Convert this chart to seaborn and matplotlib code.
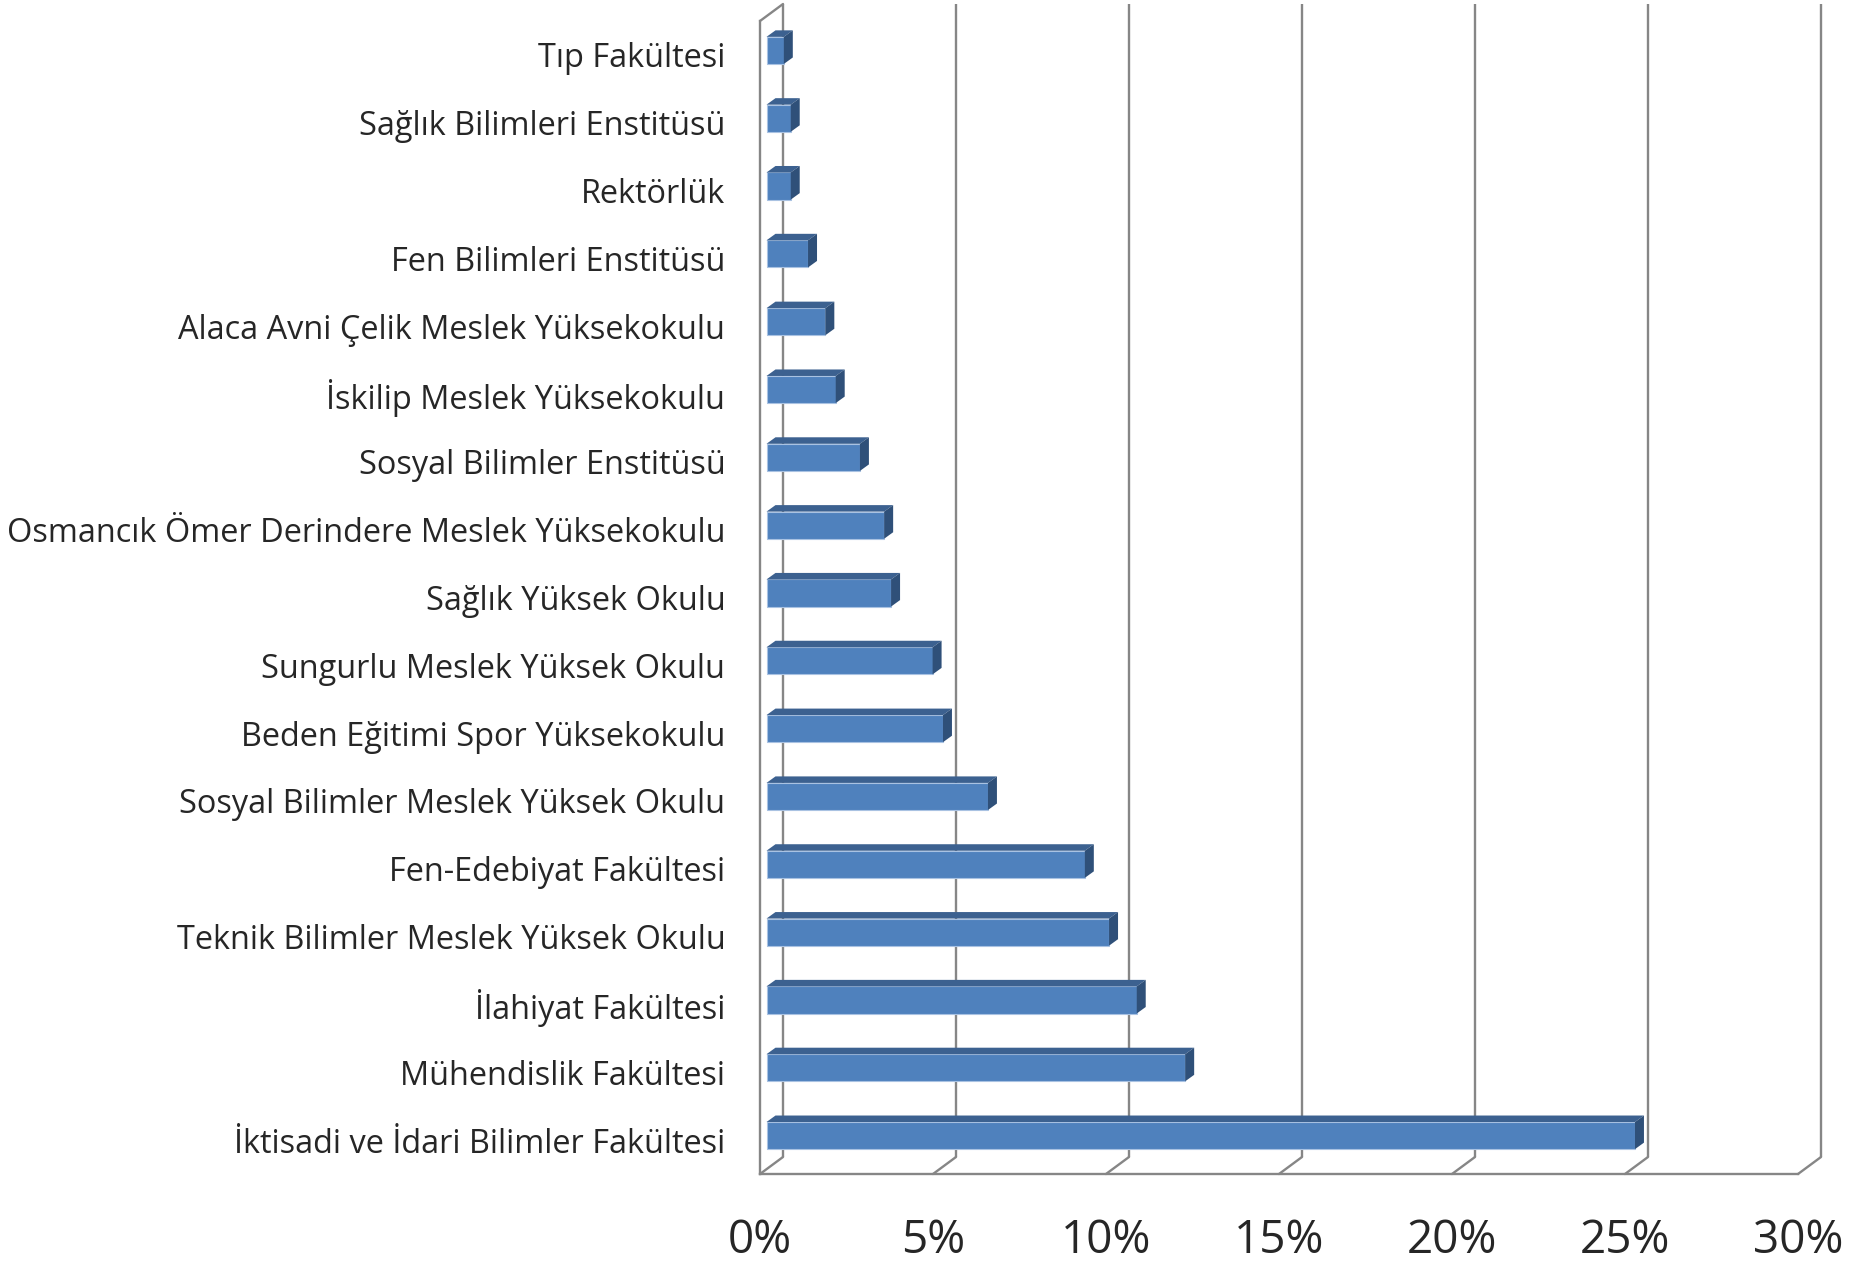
import numpy as np
import seaborn as sns
import matplotlib.pyplot as plt
from matplotlib import transforms
from matplotlib.patches import Polygon
from matplotlib.lines import Line2D

# Birimlere göre dağılım (%), yukarıdan aşağıya
categories = [
    "Tıp Fakültesi",
    "Sağlık Bilimleri Enstitüsü",
    "Rektörlük",
    "Fen Bilimleri Enstitüsü",
    "Alaca Avni Çelik Meslek Yüksekokulu",
    "İskilip Meslek Yüksekokulu",
    "Sosyal Bilimler Enstitüsü",
    "Osmancık Ömer Derindere Meslek Yüksekokulu",
    "Sağlık Yüksek Okulu",
    "Sungurlu Meslek Yüksek Okulu",
    "Beden Eğitimi Spor Yüksekokulu",
    "Sosyal Bilimler Meslek Yüksek Okulu",
    "Fen-Edebiyat Fakültesi",
    "Teknik Bilimler Meslek Yüksek Okulu",
    "İlahiyat Fakültesi",
    "Mühendislik Fakültesi",
    "İktisadi ve İdari Bilimler Fakültesi",
]
values = [0.5, 0.7, 0.7, 1.2, 1.7, 2.0, 2.7, 3.4, 3.6, 4.8, 5.1, 6.4, 9.2, 9.9, 10.7, 12.1, 25.1]
x_ticks = [0, 5, 10, 15, 20, 25, 30]
x_tick_labels = ["0%", "5%", "10%", "15%", "20%", "25%", "30%"]

sns.set_style("white")
plt.rcParams['font.family'] = ['Open Sans', 'DejaVu Sans']

W, H = 1868, 1268
fig = plt.figure(figsize=(W / 100, H / 100), dpi=100)
ax = fig.add_axes([760 / W, (H - 1174) / H, (1798 - 760) / W, (1174 - 21) / H])

gray = '#868686'
lw = 1.7
front = '#4f81bd'
top_col = '#3c6190'
side_col = '#2f5079'

n = len(categories)
sns.barplot(x=values, y=categories, orient='h', color=front, width=0.4,
            saturation=1, edgecolor='#a9c2e2', linewidth=0.8, ax=ax, zorder=3)
ax.set_xlim(0, 30)
ax.set_ylim(n - 0.5, -0.5)

# 3B görünüm: arka duvar ve çubuk derinliği (piksel)
back_dx, back_dy = 23, 17
bar_dx, bar_dy = 6.5, 4.5
depth_dx, depth_dy = 9, 6.5

back = transforms.offset_copy(ax.transData, fig=fig, x=back_dx, y=back_dy, units='dots')
ax.vlines(x_ticks, n - 0.5, -0.5, colors=gray, lw=lw, transform=back, clip_on=False, zorder=1)

shift = ax.transData + transforms.ScaledTranslation(bar_dx / 100, bar_dy / 100, fig.dpi_scale_trans)
ident = transforms.IdentityTransform()
for bar in ax.patches:
    bar.set_transform(shift)
    x0, y0 = bar.get_x(), bar.get_y()
    x1, y1 = x0 + bar.get_width(), y0 + bar.get_height()
    (px0, pyb), (px1, pyt) = shift.transform([(x0, y1), (x1, y0)])
    top = [(px0, pyt), (px1, pyt), (px1 + depth_dx, pyt + depth_dy), (px0 + depth_dx, pyt + depth_dy)]
    side = [(px1, pyb), (px1, pyt), (px1 + depth_dx, pyt + depth_dy), (px1 + depth_dx, pyb + depth_dy)]
    fig.add_artist(Polygon(top, closed=True, facecolor=top_col, edgecolor='none', transform=ident, zorder=4))
    fig.add_artist(Polygon(side, closed=True, facecolor=side_col, edgecolor='none', transform=ident, zorder=4))

# zemin ve üst köşe çizgileri
for xv in x_ticks:
    px, py = ax.transData.transform((xv, n - 0.5))
    fig.add_artist(Line2D([px, px + back_dx], [py, py + back_dy], color=gray, lw=lw, transform=ident))
px, py = ax.transData.transform((0, -0.5))
fig.add_artist(Line2D([px, px + back_dx], [py, py + back_dy], color=gray, lw=lw, transform=ident))

for s in ['top', 'right']:
    ax.spines[s].set_visible(False)
for s in ['left', 'bottom']:
    ax.spines[s].set_color(gray)
    ax.spines[s].set_linewidth(lw)
ax.patch.set_alpha(0)

ax.set_xticks(x_ticks, labels=x_tick_labels)
ax.tick_params(axis='x', length=11.5, width=lw, color=gray, pad=20, labelsize=33)

ax.set_yticks(np.arange(-0.5, n, 1))
ax.set_yticklabels([])
ax.set_yticks(np.arange(n), minor=True)
ax.set_yticklabels(categories, minor=True)
ax.tick_params(axis='y', which='major', length=8.6, width=lw, color=gray, direction='out')
ax.tick_params(axis='y', which='minor', length=0, pad=25, labelsize=23.4)
ax.set_xlabel("")
ax.set_ylabel("")

fig.savefig("out.png", dpi=100)
